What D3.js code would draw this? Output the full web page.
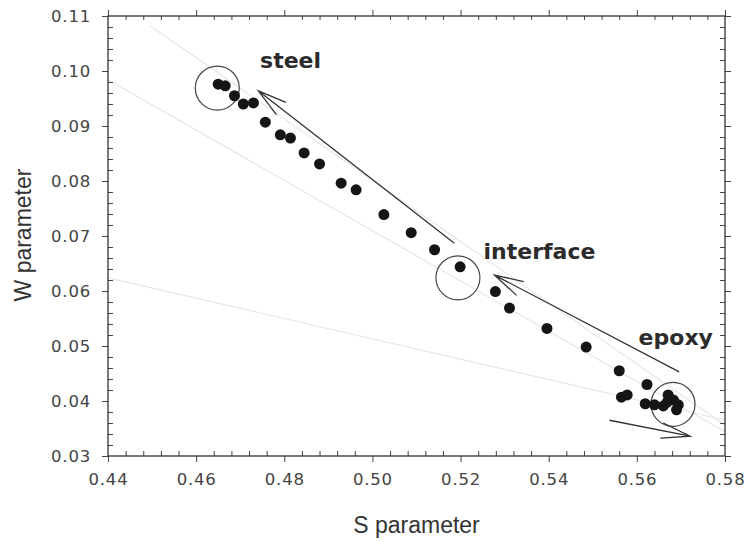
<!DOCTYPE html>
<html>
<head>
<meta charset="utf-8">
<script src="https://cdn.jsdelivr.net/npm/d3@7"></script>
<style>
  body { margin: 0; background: #fff; }
  .tick text { font-family: "DejaVu Sans", sans-serif; font-size: 16.5px; fill: #444; letter-spacing: 0.8px; }
  .tick line { stroke: #444; }
  .axis-title { font-family: "Liberation Sans", Arial, sans-serif; font-size: 23px; fill: #333; }
  .region-label { font-family: "DejaVu Sans", sans-serif; font-weight: bold; font-size: 22px; fill: #2b2b2b; }
</style>
</head>
<body>
<svg class="chart"></svg>
<script>
// S-W points along the depth profile (steel -> interface -> epoxy)
var sValues = [0.4650, 0.4666, 0.4687, 0.4707, 0.4730, 0.4757, 0.4791, 0.4814, 0.4845, 0.4880,
               0.4929, 0.4963, 0.5026, 0.5088, 0.5141, 0.5199, 0.5279, 0.5311, 0.5396, 0.5485,
               0.5560, 0.5565, 0.5578, 0.5623, 0.5619, 0.5640, 0.5660, 0.5671, 0.5669, 0.5683,
               0.5694, 0.5690];
var wValues = [0.0976, 0.0973, 0.0955, 0.0940, 0.0942, 0.0907, 0.0884, 0.0878, 0.0851, 0.0831,
               0.0796, 0.0784, 0.0739, 0.0706, 0.0675, 0.0644, 0.0599, 0.0569, 0.0532, 0.0498,
               0.0455, 0.0407, 0.0411, 0.0430, 0.0395, 0.0393, 0.0391, 0.0411, 0.0398, 0.0402,
               0.0393, 0.0384];

var sTicks = [0.44, 0.46, 0.48, 0.50, 0.52, 0.54, 0.56, 0.58];
var wTicks = [0.03, 0.04, 0.05, 0.06, 0.07, 0.08, 0.09, 0.10, 0.11];

// annotations (data units)
var regionNames = ["steel", "interface", "epoxy"];
var labelS = [0.4745, 0.5252, 0.5604];
var labelW = [0.1006, 0.0659, 0.0502];
var circleS = [0.4648, 0.5194, 0.5682];
var circleW = [0.0969, 0.0624, 0.0394];
var arrowFromS = [0.5186, 0.5696, 0.5538];
var arrowFromW = [0.0687, 0.0453, 0.0365];
var arrowToS = [0.4741, 0.5277, 0.5721];
var arrowToW = [0.0964, 0.0629, 0.0336];
var guideS0 = [0.4496, 0.44, 0.44];
var guideW0 = [0.1082, 0.0984, 0.0624];
var guideS1 = [0.58, 0.58, 0.58];
var guideW1 = [0.0356, 0.0344, 0.0365];

var W = 744, H = 542;
var margin = {top: 16, right: 19, bottom: 86, left: 108};
var width = W - margin.left - margin.right,
    height = H - margin.top - margin.bottom;

var x = d3.scaleLinear().domain([0.44, 0.58]).range([0, width]);
var y = d3.scaleLinear().domain([0.03, 0.11]).range([height, 0]);

var sMinor = d3.range(0.44, 0.5801, 0.004).filter(function(v) { return Math.abs(v / 0.02 - Math.round(v / 0.02)) > 0.01; });
var wMinor = d3.range(0.03, 0.1101, 0.002).filter(function(v) { return Math.abs(v / 0.01 - Math.round(v / 0.01)) > 0.01; });

var svg = d3.select(".chart")
    .attr("width", W)
    .attr("height", H)
  .append("g")
    .attr("transform", "translate(" + margin.left + "," + margin.top + ")");

// faint guide lines
svg.selectAll(".guide")
    .data(guideS0)
  .enter().append("line")
    .attr("class", "guide")
    .attr("x1", function(d, i) { return x(guideS0[i]); })
    .attr("y1", function(d, i) { return y(guideW0[i]); })
    .attr("x2", function(d, i) { return x(guideS1[i]); })
    .attr("y2", function(d, i) { return y(guideW1[i]); })
    .attr("stroke", "#e6e6e6")
    .attr("stroke-width", 1.2);

function addAxis(axis, transform) {
  var g = svg.append("g").attr("transform", transform || null).call(axis);
  g.select(".domain").remove();
  return g;
}

// bottom
addAxis(d3.axisBottom(x).tickValues(sTicks).tickSize(6).tickPadding(11).tickFormat(d3.format(".2f")),
        "translate(0," + height + ")");
addAxis(d3.axisBottom(x).tickValues(sMinor).tickSize(-5).tickFormat(""), "translate(0," + height + ")");
// top
addAxis(d3.axisTop(x).tickValues(sTicks).tickSize(6).tickFormat(""));
addAxis(d3.axisTop(x).tickValues(sMinor).tickSize(-4).tickFormat(""));
// left
addAxis(d3.axisLeft(y).tickValues(wTicks).tickSize(6).tickPadding(11).tickFormat(d3.format(".2f")));
addAxis(d3.axisLeft(y).tickValues(wMinor).tickSize(-5).tickFormat(""));
// right
addAxis(d3.axisRight(y).tickValues(wTicks).tickSize(6).tickFormat(""), "translate(" + width + ",0)");
addAxis(d3.axisRight(y).tickValues(wMinor).tickSize(-5).tickFormat(""), "translate(" + width + ",0)");

svg.append("rect")
    .attr("width", width)
    .attr("height", height)
    .attr("fill", "none")
    .attr("stroke", "#333")
    .attr("stroke-width", 1.3);

// circled regions
svg.selectAll(".region-circle")
    .data(circleS)
  .enter().append("circle")
    .attr("class", "region-circle")
    .attr("cx", function(d, i) { return x(circleS[i]); })
    .attr("cy", function(d, i) { return y(circleW[i]); })
    .attr("r", 22)
    .attr("fill", "none")
    .attr("stroke", "#444")
    .attr("stroke-width", 1.2);

// arrows with open heads
svg.selectAll(".arrow")
    .data(arrowFromS)
  .enter().append("path")
    .attr("class", "arrow")
    .attr("fill", "none")
    .attr("stroke", "#333")
    .attr("stroke-width", 1.3)
    .attr("d", function(d, i) {
      var x0 = x(arrowFromS[i]), y0 = y(arrowFromW[i]),
          x1 = x(arrowToS[i]), y1 = y(arrowToW[i]);
      var a = Math.atan2(y0 - y1, x0 - x1), len = 30, spread = 15 * Math.PI / 180;
      var p = d3.path();
      p.moveTo(x0, y0);
      p.lineTo(x1, y1);
      p.moveTo(x1 + len * Math.cos(a - spread), y1 + len * Math.sin(a - spread));
      p.lineTo(x1, y1);
      p.lineTo(x1 + len * Math.cos(a + spread), y1 + len * Math.sin(a + spread));
      return p.toString();
    });

// points
svg.selectAll(".dot")
    .data(sValues)
  .enter().append("circle")
    .attr("class", "dot")
    .attr("r", 5.5)
    .attr("cx", function(d) { return x(d); })
    .attr("cy", function(d, i) { return y(wValues[i]); })
    .attr("fill", "#151515");

// region labels
svg.selectAll(".region-label")
    .data(regionNames)
  .enter().append("text")
    .attr("class", "region-label")
    .attr("x", function(d, i) { return x(labelS[i]); })
    .attr("y", function(d, i) { return y(labelW[i]); })
    .text(function(d) { return d; });

// axis titles
svg.append("text")
    .attr("class", "axis-title")
    .attr("x", width / 2)
    .attr("y", height + 77)
    .style("text-anchor", "middle")
    .text("S parameter");

svg.append("text")
    .attr("class", "axis-title")
    .attr("transform", "rotate(-90)")
    .attr("x", -(height / 2) + 1)
    .attr("y", -77)
    .style("text-anchor", "middle")
    .text("W parameter");
</script>
</body>
</html>
